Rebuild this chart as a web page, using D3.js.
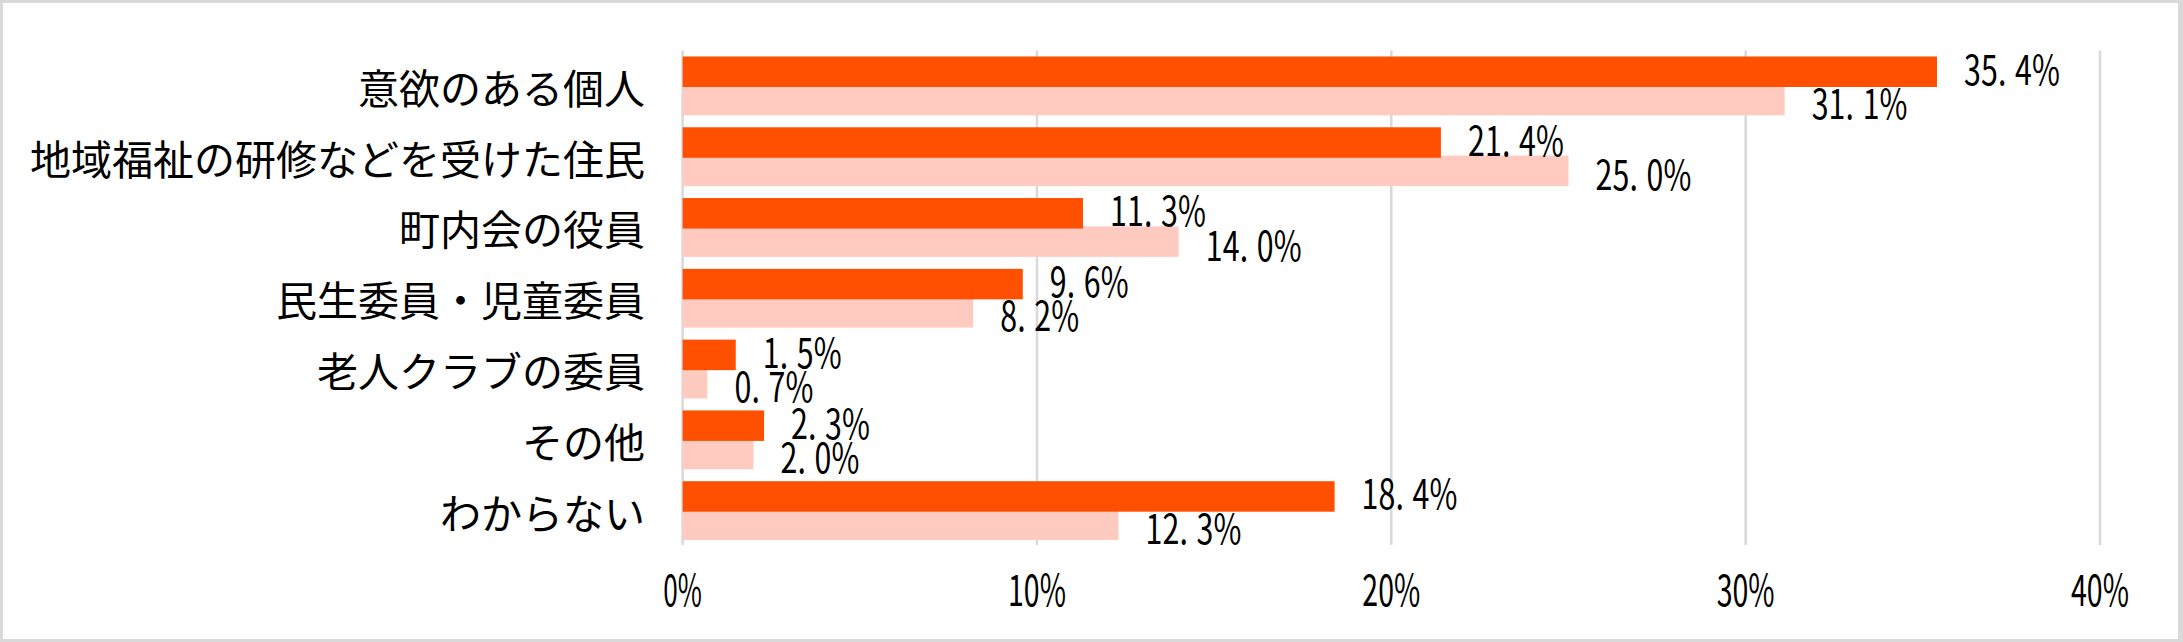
<!DOCTYPE html>
<html>
<head>
<meta charset="utf-8">
<script src="https://cdn.jsdelivr.net/npm/d3@7"></script>
<style>
  html, body { margin: 0; padding: 0; background: #fff; }
  svg { display: block; }
</style>
</head>
<body>
<script>
// ---- data ----
const categories = ["意欲のある個人", "地域福祉の研修などを受けた住民", "町内会の役員", "民生委員・児童委員", "老人クラブの委員", "その他", "わからない"];
const seriesNames = ["今回", "前回"];
const seriesA = [35.4, 21.4, 11.3, 9.6, 1.5, 2.3, 18.4];
const seriesB = [31.1, 25.0, 14.0, 8.2, 0.7, 2.0, 12.3];
const tickValues = [0, 10, 20, 30, 40];
const tickLabels = ["0%", "10%", "20%", "30%", "40%"];

// ---- layout ----
const W = 2183, H = 642;
const colors = { A: "#FF4F00", B: "#FFCBC1" };
const jpFont = "'Noto Sans CJK JP', 'Noto Sans', sans-serif";

const svg = d3.select("body").append("svg").attr("width", W).attr("height", H);

// border
svg.append("rect").attr("x", 0).attr("y", 0).attr("width", W).attr("height", H).attr("fill", "#D9D9D9");
svg.append("rect").attr("x", 3).attr("y", 3).attr("width", W - 8).attr("height", H - 6).attr("fill", "#fff");

const x = d3.scaleLinear().domain([0, 40]).range([682.6, 2100]);
const y = d3.scaleBand().domain(categories).range([50.5, 546]).paddingInner(0).paddingOuter(0);

const barH = 30.5, barStep = 28.3;
const groupOff = (y.bandwidth() - (barStep + barH)) / 2;

// gridlines
svg.append("g").selectAll("line").data(tickValues).join("line")
  .attr("x1", d => x(d)).attr("x2", d => x(d))
  .attr("y1", y.range()[0]).attr("y2", y.range()[1] - 1)
  .attr("stroke", "#D9D9D9").attr("stroke-width", 2.5);

// tick labels
const tickCharW = 19.3;
svg.append("g").selectAll("text").data(tickValues).join("text")
  .attr("x", (d, i) => x(d) - tickLabels[i].length * tickCharW / 2)
  .attr("y", 606)
  .attr("textLength", (d, i) => tickLabels[i].length * tickCharW)
  .attr("lengthAdjust", "spacingAndGlyphs")
  .attr("font-family", jpFont).attr("font-size", 43).attr("fill", "#000")
  .text((d, i) => tickLabels[i]);

// category labels
svg.append("g").selectAll("text").data(categories).join("text")
  .attr("x", 645)
  .attr("y", d => y(d) + y.bandwidth() / 2)
  .attr("text-anchor", "end")
  .attr("dominant-baseline", "central")
  .attr("font-family", jpFont).attr("font-size", 41).attr("fill", "#000")
  .text(d => d);

// bars: light (series B) first, dark on top
const barsB = categories.map((c, i) => ({ c, v: seriesB[i], top: y(c) + groupOff + barStep }));
const barsA = categories.map((c, i) => ({ c, v: seriesA[i], top: y(c) + groupOff }));

svg.append("g").selectAll("rect").data(barsB).join("rect")
  .attr("x", x(0)).attr("y", d => d.top)
  .attr("width", d => x(d.v) - x(0)).attr("height", barH)
  .attr("fill", colors.B);
svg.append("g").selectAll("rect").data(barsA).join("rect")
  .attr("x", x(0)).attr("y", d => d.top)
  .attr("width", d => x(d.v) - x(0)).attr("height", barH)
  .attr("fill", colors.A);

// data labels: monospaced-cell look, horizontally condensed
const cellW = 17, sx = 0.74;
function addLabels(data, dy) {
  const g = svg.append("g").selectAll("g").data(data).join("g")
    .attr("transform", d => `translate(${x(d.v) + 27},${d.top + barH / 2 + dy + 15}) scale(${sx},1)`);
  g.append("text")
    .attr("font-family", jpFont).attr("font-size", 41).attr("fill", "#000")
    .selectAll("tspan")
    .data(d => Array.from(d.v.toFixed(1) + "%"))
    .join("tspan")
    .attr("x", (ch, i) => i * cellW / sx)
    .attr("y", 0)
    .text(ch => ch);
}
addLabels(barsA, -2);
addLabels(barsB, 4);
</script>
</body>
</html>
